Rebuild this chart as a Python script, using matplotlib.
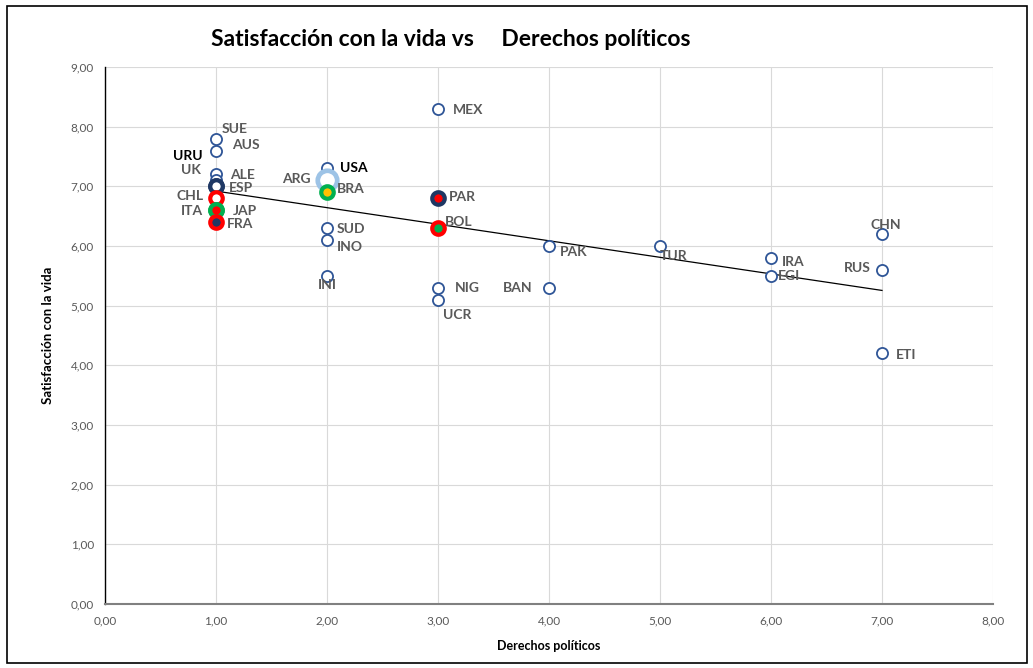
import matplotlib
matplotlib.use("Agg")
import matplotlib.pyplot as plt
from matplotlib.patches import Rectangle
import numpy as np

plt.rcParams["font.family"] = ["Lato", "DejaVu Sans"]

# data
countries = ["SUE", "AUS", "UK", "ALE", "URU", "ESP", "CHL", "ITA", "JAP", "FRA",
             "USA", "ARG", "BRA", "SUD", "INO", "INI",
             "MEX", "PAR", "BOL", "NIG", "UCR",
             "PAK", "BAN", "TUR", "IRA", "EGI", "CHN", "RUS", "ETI"]
derechos = [1, 1, 1, 1, 1, 1, 1, 1, 1, 1,
            2, 2, 2, 2, 2, 2,
            3, 3, 3, 3, 3,
            4, 4, 5, 6, 6, 7, 7, 7]
satisfaccion = [7.8, 7.6, 7.2, 7.1, 7.0, 7.0, 6.8, 6.6, 6.6, 6.4,
                7.3, 7.1, 6.9, 6.3, 6.1, 5.5,
                8.3, 6.8, 6.3, 5.3, 5.1,
                6.0, 5.3, 6.0, 5.8, 5.5, 6.2, 5.6, 4.2]

# label offsets in pixels (dx, dy) and horizontal alignment
label_pos = {
    "SUE": (6, 10, "left"), "AUS": (16, 6, "left"), "UK": (-15, 4, "right"),
    "ALE": (14, 5, "left"), "URU": (-13, 30, "right"), "ESP": (13, -2, "left"),
    "CHL": (-12, 2, "right"), "ITA": (-13, -1, "right"), "JAP": (17, -1, "left"),
    "FRA": (11, -2, "left"), "USA": (13, 0, "left"), "ARG": (-16, 1, "right"),
    "BRA": (10, 3, "left"), "SUD": (10, -1, "left"), "INO": (10, -7, "left"),
    "INI": (0, -9, "center"), "MEX": (15, -1, "left"), "PAR": (11, 1, "left"),
    "BOL": (7, 6, "left"), "NIG": (17, 0, "left"), "UCR": (5, -15, "left"),
    "PAK": (11, -6, "left"), "BAN": (-16, 0, "right"), "TUR": (0, -10, "left"),
    "IRA": (11, -4, "left"), "EGI": (7, 0, "left"), "CHN": (4, 9, "center"),
    "RUS": (-11, 2, "right"), "ETI": (14, -2, "left"),
}
bold_black = {"URU", "USA"}

# special markers: (edge colour, face colour, size, edge width)
special = {
    "ARG": ("#9DC3E6", "white", 14, 3.4),
    "URU": ("#1F3864", "white", 9, 3.0),
    "ESP": ("#1F3864", "white", 9, 3.0),
    "CHL": ("#FF0000", "white", 9, 3.0),
    "ITA": ("#00B050", "#FF0000", 9, 3.0),
    "JAP": ("#00B050", "#FF0000", 9, 3.0),
    "FRA": ("#FF0000", "#1F3864", 9, 3.0),
    "BRA": ("#00B050", "#FFC000", 9, 3.0),
    "PAR": ("#1F3864", "#FF0000", 9, 3.0),
    "BOL": ("#FF0000", "#00B050", 9, 3.0),
}

fig = plt.figure(figsize=(10.33, 6.68), dpi=100)
ax = fig.add_axes([105 / 1033, 1 - 604 / 668, 888 / 1033, 537 / 668])

for c, x, y in zip(countries, derechos, satisfaccion):
    if c in special:
        ec, fc, ms, mew = special[c]
    else:
        ec, fc, ms, mew = "#2F5597", "white", 8, 1.3
    ax.plot(x, y, "o", ms=ms, mfc=fc, mec=ec, mew=mew, zorder=4)

# linear trend line
k, b = np.polyfit(derechos, satisfaccion, 1)
xs = np.array([min(derechos), max(derechos)])
ax.plot(xs, k * xs + b, color="black", lw=0.9, zorder=3)

for c, x, y in zip(countries, derechos, satisfaccion):
    dx, dy, ha = label_pos[c]
    ax.annotate(c, (x, y), xytext=(dx, dy), textcoords="offset pixels",
                ha=ha, va="center", fontsize=10, fontweight="bold",
                color="black" if c in bold_black else "#595959", zorder=5)

ax.set_xlim(0, 8)
ax.set_ylim(0, 9)
ax.set_xticks(range(0, 9))
ax.set_yticks(range(0, 10))
ax.set_xticklabels([f"{v},00" for v in range(0, 9)])
ax.set_yticklabels([f"{v},00" for v in range(0, 10)])
ax.tick_params(length=0, labelsize=8.5, labelcolor="#595959", pad=8)
ax.grid(True, color="#D9D9D9", lw=0.8)
ax.set_axisbelow(True)
for s in ["top", "right"]:
    ax.spines[s].set_visible(False)
ax.spines["left"].set_color("black")
ax.spines["left"].set_linewidth(1.0)
ax.spines["bottom"].set_color("#808080")
ax.spines["bottom"].set_linewidth(1.5)

ax.set_xlabel("Derechos políticos", fontsize=9, fontweight="bold", labelpad=10)
ax.set_ylabel("Satisfacción con la vida", fontsize=9.5, fontweight="bold", labelpad=12)

fig.text(451 / 1033, 1 - 40 / 668, "Satisfacción con la vida vs     Derechos políticos",
         ha="center", va="center", fontsize=16.5, fontweight="bold")

fig.patches.append(Rectangle((7 / 1033, 5 / 668), 1020 / 1033, 657 / 668,
                             transform=fig.transFigure, fill=False,
                             edgecolor="black", lw=1.2))

fig.savefig("out.png", dpi=100)
